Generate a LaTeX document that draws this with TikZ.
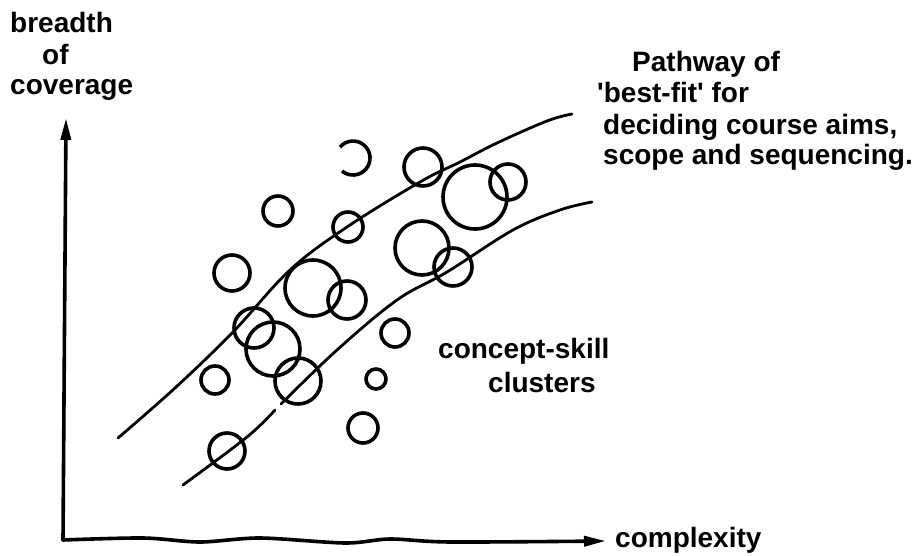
\documentclass[tikz,border=0pt]{standalone}
\usepackage{fontspec}
\setmainfont{Liberation Sans}
\usetikzlibrary{arrows.meta}
\begin{document}
\begin{tikzpicture}[x=1pt,y=-1pt,
  lbl/.style={font=\bfseries\fontsize{28}{31}\selectfont, inner sep=0pt, anchor=base west},
  axis/.style={line width=3.6pt, line cap=round},
  band/.style={line width=2.8pt, line cap=round},
  blob/.style={line width=3.6pt},
  tip/.style={-{Triangle[length=22pt,width=10pt]}}]
\useasboundingbox (0,0) rectangle (919,556);

% axes
\coordinate (origin) at (63,540);
\coordinate (ytop) at (66,118);
\coordinate (xend) at (606,541);
\draw[axis,tip] (origin) -- (ytop);
\draw[axis,tip] plot[smooth] coordinates {(origin) (143,538) (200,542) (260,538) (345,543) (390,539) (450,542) (xend)};

% axis labels
\node[lbl] (yl1) at (10,33) {breadth};
\node[lbl] (yl2) at (42,65) {of};
\node[lbl] (yl3) at (10,95) {coverage};
\node[lbl] (xl) at (615,547) {complexity};

% pathway band (the lower edge has a small break)
\draw[band] plot[smooth, tension=0.6] coordinates {(118,438) (175,388) (233,332) (290,270) (347,227) (420,182) (460,162) (497,143) (547,121) (572,114)};
\draw[band] plot[smooth, tension=0.6] coordinates {(183,485) (247,437) (275,410)};
\draw[band] plot[smooth, tension=0.6] coordinates {(281,404) (337,350) (397,300) (447,272) (513,230) (560,210) (592,202)};

\node[lbl] (p1) at (632,72) {Pathway of};
\node[lbl] (p2) at (597,103) {\textquotesingle best-fit\textquotesingle\ for};
\node[lbl] (p3) at (603,135) {deciding course aims,};
\node[lbl] (p4) at (603,165) {scope and sequencing.};

% concept-skill clusters
\draw[blob] (340,147.1) arc[start angle=140, end angle=-130, radius=17pt];
\foreach \cx/\cy/\r in {423/167/19, 475/197/32, 508/182/18, 278/211/15, 348/227/15,
  422/248/27, 453/267/19, 232/273/18, 313/288/28, 347/300/19, 395/333/14,
  254/328/20, 273/349/27, 298/381/23, 215/380/14, 227/451/18, 376/379/10, 363/428/15}
  \draw[blob] (\cx,\cy) circle[radius=\r pt];

\node[lbl] (c1) at (438,358) {concept-skill};
\node[lbl] (c2) at (488,392) {clusters};
\end{tikzpicture}
\end{document}
